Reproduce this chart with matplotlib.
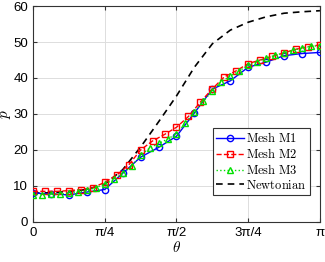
import numpy as np
import matplotlib
matplotlib.use("Agg")
import matplotlib.pyplot as plt

m1_vals = [8.0, 7.8, 7.5, 8.3, 9.0, 13.5, 18.0, 20.7, 23.8, 30.3, 36.9, 39.2,
           43.0, 44.4, 46.2, 46.8, 47.1]
m2_vals = [8.5, 8.5, 8.5, 8.7, 9.0, 9.5, 11.0, 13.0, 15.8, 20.0, 22.5, 24.3,
           26.3, 29.3, 33.3, 37.0, 40.3, 42.0, 44.0, 45.0, 46.0, 47.0, 48.0,
           48.7, 49.2]
m3_vals = [7.6, 7.6, 7.7, 7.8, 8.0, 8.3, 8.8, 9.5, 10.5, 11.8, 13.5, 15.5,
           18.5, 20.5, 21.8, 23.0, 24.5, 27.5, 30.5, 33.5, 36.5, 39.0, 40.5,
           42.0, 43.5, 44.5, 45.5, 46.3, 47.0, 47.7, 48.3, 48.8, 49.0]
newt_vals = [8.0, 8.1, 8.5, 9.0, 10.5, 14.5, 20.8, 27.8, 35.0, 43.0, 49.5,
             53.3, 55.5, 57.0, 58.0, 58.4, 58.7]

tick_labels = ["0", "π/4", "π/2", "3π/4", "π"]
legend_labels = [r"$\mathrm{Mesh\ M1}$", r"$\mathrm{Mesh\ M2}$",
                 r"$\mathrm{Mesh\ M3}$", r"$\mathrm{Newtonian}$"]

plt.rcParams["mathtext.fontset"] = "cm"
plt.rcParams["font.family"] = ["Liberation Sans", "DejaVu Sans"]

th1 = np.linspace(0, np.pi, len(m1_vals))
th2 = np.linspace(0, np.pi, len(m2_vals))
th3 = np.linspace(0, np.pi, len(m3_vals))
thn = np.linspace(0, np.pi, len(newt_vals))

fig = plt.figure(figsize=(3.25, 2.62), dpi=100)
ax = fig.add_axes([0.1015, 0.153, 0.883, 0.824])

ax.plot(th1, m1_vals, "-o", color="#0000ff", lw=1.0, ms=4.5, mfc="none",
        mew=1.0, label=legend_labels[0], zorder=3)
ax.plot(th2, m2_vals, "--s", color="#ff0000", lw=1.0, ms=4, mfc="none",
        mew=1.0, label=legend_labels[1], zorder=3)
ax.plot(th3, m3_vals, ":^", color="#00e000", lw=1.0, ms=4.5, mfc="none",
        mew=1.0, label=legend_labels[2], zorder=3)
ax.plot(thn, newt_vals, "--", color="black", lw=1.2, dashes=(4, 3),
        label=legend_labels[3], zorder=2)

ax.set_xlim(0, np.pi)
ax.set_ylim(0, 60)
ax.set_xticks(np.linspace(0, np.pi, 5))
ax.set_xticklabels(tick_labels)
ax.set_yticks(range(0, 61, 10))
ax.tick_params(direction="in", top=True, right=True, labelsize=9.5,
               length=3, color="#333333")
ax.grid(True, color="#dddddd", lw=0.7)
for s in ax.spines.values():
    s.set_color("#333333")
    s.set_linewidth(0.8)

ax.set_xlabel(r"$\theta$", fontsize=11, labelpad=1)
ax.set_ylabel(r"$p$", fontsize=11)
ax.yaxis.set_label_coords(-0.07, 0.5)

leg = ax.legend(loc="lower right", bbox_to_anchor=(0.965, 0.125),
                borderaxespad=0, fontsize=9, fancybox=False, framealpha=1,
                edgecolor="#333333", handlelength=2.2, handletextpad=0.2,
                labelspacing=0.15, borderpad=0.25)
leg.get_frame().set_linewidth(0.8)

fig.savefig("out.png", dpi=100)
